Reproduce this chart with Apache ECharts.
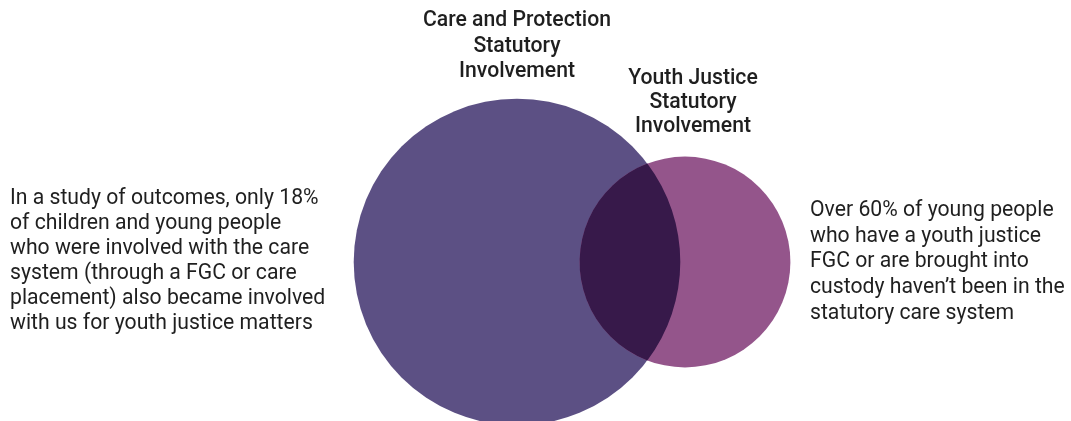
<!DOCTYPE html>
<html>
<head>
<meta charset="utf-8">
<script src="https://cdn.jsdelivr.net/npm/echarts@6/dist/echarts.min.js"></script>
<style>
  html, body { margin: 0; padding: 0; background: #fff; }
  #chart { width: 1071px; height: 421px; }
</style>
</head>
<body>
<div id="chart"></div>
<script>
// sets of the venn diagram (units: relative circle size)
const setNames = ['Care and Protection\nStatutory\nInvolvement', 'Youth Justice\nStatutory\nInvolvement'];
const centerX = [0, 168];
const centerY = [0, 0];
const radius = [163.3, 105.4];

const leftNote = 'In a study of outcomes, only 18%\nof children and young people\nwho were involved with the care\nsystem (through a FGC or care\nplacement) also became involved\nwith us for youth justice matters';
const rightNote = 'Over 60% of young people\nwho have a youth justice\nFGC or are brought into\ncustody haven\u2019t been in the\nstatutory care system';

// styles
const setColors = ['#5c5084', '#94558b'];
const overlapColor = '#37194a';
const textColor = '#1f1f1f';
const labelDx = [0, 8];
const labelGap = [14, 17.5];
const labelLineHeight = [25.6, 24];

const chart = echarts.init(document.getElementById('chart'));

const circleData = setNames.map((name, i) => [centerX[i], centerY[i], radius[i], i]);

// lens shaped intersection of the two circles, in pixels
function lensPath(c1, r1, c2, r2) {
  const dx = c2[0] - c1[0], dy = c2[1] - c1[1];
  const d = Math.sqrt(dx * dx + dy * dy);
  const a = (r1 * r1 - r2 * r2 + d * d) / (2 * d);
  const h = Math.sqrt(Math.max(r1 * r1 - a * a, 0));
  const ux = dx / d, uy = dy / d;
  const mx = c1[0] + a * ux, my = c1[1] + a * uy;
  const p1 = [mx + h * uy, my - h * ux];
  const p2 = [mx - h * uy, my + h * ux];
  const large2 = (d - a) < 0 ? 1 : 0;
  const large1 = a < 0 ? 1 : 0;
  return 'M' + p1[0] + ' ' + p1[1] +
    ' A' + r2 + ' ' + r2 + ' 0 ' + large2 + ' 0 ' + p2[0] + ' ' + p2[1] +
    ' A' + r1 + ' ' + r1 + ' 0 ' + large1 + ' 0 ' + p1[0] + ' ' + p1[1] + ' Z';
}

const option = {
  animation: false,
  backgroundColor: '#fff',
  grid: { left: 0, right: 0, top: 0, bottom: 0 },
  xAxis: { type: 'value', min: -517, max: 554, show: false },
  yAxis: { type: 'value', min: -159, max: 262, show: false },
  graphic: [
    {
      type: 'text', left: 10, top: 186.5,
      style: { text: leftNote, font: '21.2px Roboto', lineHeight: 25, fill: textColor }
    },
    {
      type: 'text', left: 810, top: 198,
      style: { text: rightNote, font: '21.2px Roboto', lineHeight: 25.6, fill: textColor }
    }
  ],
  series: [
    {
      type: 'custom',
      coordinateSystem: 'cartesian2d',
      data: circleData,
      renderItem: (params, api) => {
        const i = api.value(3);
        const c = api.coord([api.value(0), api.value(1)]);
        const r = api.size([api.value(2), api.value(2)])[0];
        const children = [
          {
            type: 'circle',
            shape: { cx: c[0], cy: c[1], r: r },
            style: { fill: setColors[i] }
          },
          {
            type: 'text',
            x: c[0] + labelDx[i],
            y: c[1] - r - labelGap[i],
            style: {
              text: setNames[i], font: '500 21.2px Roboto', lineHeight: labelLineHeight[i],
              fill: textColor, align: 'center', verticalAlign: 'bottom'
            }
          }
        ];
        if (i === circleData.length - 1) {
          const c0 = api.coord([centerX[0], centerY[0]]);
          const r0 = api.size([radius[0], radius[0]])[0];
          children.push({
            type: 'path',
            shape: { pathData: lensPath(c0, r0, c, r) },
            style: { fill: overlapColor }
          });
        }
        return { type: 'group', children: children };
      }
    }
  ]
};

chart.setOption(option);
</script>
</body>
</html>
